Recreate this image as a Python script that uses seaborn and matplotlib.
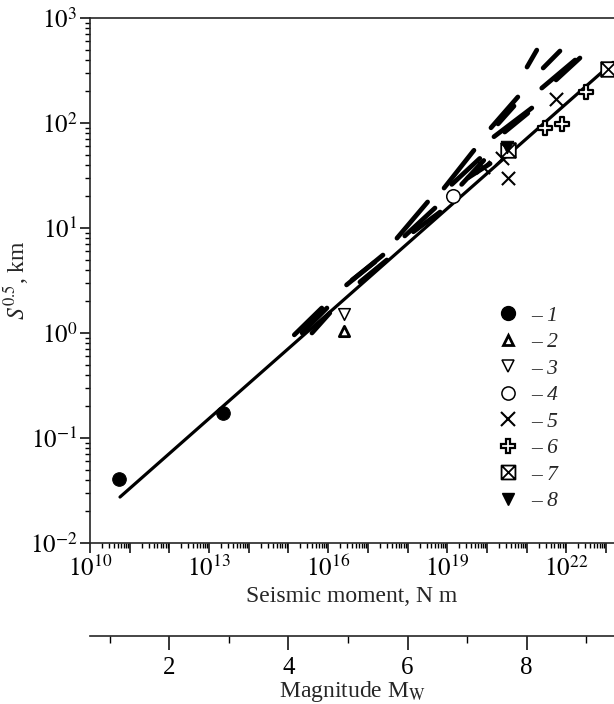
import numpy as np
import pandas as pd
import matplotlib
matplotlib.use("Agg")
import matplotlib.pyplot as plt
from matplotlib.path import Path
from matplotlib.lines import Line2D
from matplotlib.ticker import FixedLocator, FuncFormatter, NullFormatter, LogLocator
import seaborn as sns

# ---------------------------------------------------------------
# Datos (momento sismico N m, S^0.5 km)
# ---------------------------------------------------------------
m0_1 = [5.5e10, 2.2e13]
s_1 = [0.041, 0.172]
m0_2 = [2.5e16]
s_2 = [1.05]
m0_3 = [2.5e16]
s_3 = [1.52]
m0_4 = [1.4e19]
s_4 = [20.0]
m0_5 = [7.9e19, 2.4e20, 3.4e20, 5.5e21]
s_5 = [38.0, 46.0, 30.0, 169.0]
m0_6 = [2.9e21, 7.8e21, 3.1e22]
s_6 = [90.0, 98.0, 197.0]
m0_7 = [3.3e20, 1.1e23]
s_7 = [55.0, 327.0]
m0_8 = [3.2e20]
s_8 = [59.0]

# recta de ajuste
fit_m0 = [5.7e10, 1.5e23]
fit_s = [0.0274, 378.0]

# segmentos gruesos (rangos)
seg_m0_a = [1.4e15, 2.2e15, 3.9e15, 2.9e16, 6.3e16, 4.0e16, 5.4e17, 8.5e17, 1.4e18,
            8.3e18, 1.3e19, 2.3e19, 3.3e19, 1.26e20, 1.5e20, 2.8e20, 1.9e20,
            1.02e21, 2.6e21, 2.4e21, 5.5e21]
seg_m0_b = [6.9e15, 9.3e15, 1.1e16, 2.4e17, 3.0e17, 1.5e17, 3.2e18, 4.9e18, 6.6e18,
            4.7e19, 6.6e19, 8.3e19, 1.2e20, 6.0e20, 1.35e21, 1.07e21, 4.8e20,
            1.8e21, 6.9e21, 1.66e22, 2.2e22]
seg_s_a = [0.96, 1.0, 1.0, 2.87, 3.06, 3.2, 8.0, 8.4, 9.2,
           24.0, 26.0, 26.0, 30.0, 90.0, 74.0, 82.0, 98.0,
           341.0, 334.0, 215.0, 257.0]
seg_s_b = [1.73, 1.73, 1.55, 5.53, 4.96, 4.74, 17.7, 15.5, 14.2,
           55.0, 46.0, 44.0, 41.0, 177.0, 139.0, 124.0, 145.0,
           495.0, 485.0, 398.0, 416.0]

legend_labels = ["1", "2", "3", "4", "5", "6", "7", "8"]
x_label_decades = [10, 13, 16, 19, 22]
mw_ticks = [2, 4, 6, 8]
mw_minor = [1, 3, 5, 7, 9]

# ---------------------------------------------------------------
# Estilo
# ---------------------------------------------------------------
sns.set_theme(style="ticks")
plt.rcParams['font.family'] = ['Liberation Serif', 'DejaVu Serif']
plt.rcParams['mathtext.fontset'] = 'stix'
plt.rcParams['axes.linewidth'] = 1.2
plt.rcParams['xtick.major.width'] = 1.1
plt.rcParams['ytick.major.width'] = 1.1
plt.rcParams['xtick.minor.width'] = 1.0
plt.rcParams['ytick.minor.width'] = 1.0

fig = plt.figure(figsize=(6.14, 7.04), dpi=100)
ax = fig.add_axes([90 / 614, 161 / 704, 524 / 614, 525 / 704])
ax.set_xscale('log')
ax.set_yscale('log')
ax.set_xlim(1e10, 10 ** 23.2)
ax.set_ylim(1e-2, 1e3)

# marcador cuadrado con aspa
box_x = Path([(-1, -1), (1, -1), (1, 1), (-1, 1), (0, 0),
              (-1, -1), (1, 1), (-1, 1), (1, -1)],
             [Path.MOVETO, Path.LINETO, Path.LINETO, Path.LINETO, Path.CLOSEPOLY,
              Path.MOVETO, Path.LINETO, Path.MOVETO, Path.LINETO])

# segmentos
dash_df = pd.DataFrame({
    'seg': np.repeat(np.arange(len(seg_m0_a)), 2),
    'm0': np.ravel(np.column_stack([seg_m0_a, seg_m0_b])),
    's': np.ravel(np.column_stack([seg_s_a, seg_s_b])),
})
sns.lineplot(data=dash_df, x='m0', y='s', units='seg', estimator=None, sort=False,
             color='black', lw=3.4, solid_capstyle='round', legend=False, ax=ax)

# recta
sns.lineplot(x=fit_m0, y=fit_s, color='black', lw=2.3, ax=ax, legend=False)

# puntos
sns.scatterplot(x=m0_1, y=s_1, marker='o', s=95, color='black', edgecolor='black', ax=ax, zorder=4)
sns.scatterplot(x=m0_2, y=s_2, marker='^', s=55, facecolor='white', edgecolor='black',
                linewidth=2.0, ax=ax, zorder=4)
sns.scatterplot(x=m0_3, y=s_3, marker='v', s=70, facecolor='white', edgecolor='black',
                linewidth=1.1, ax=ax, zorder=4)
sns.scatterplot(x=m0_4, y=s_4, marker='o', s=95, facecolor='white', edgecolor='black',
                linewidth=1.1, ax=ax, zorder=4)
sns.scatterplot(x=m0_5, y=s_5, marker='x', s=90, color='black', linewidth=1.5, ax=ax, zorder=4)
sns.scatterplot(x=m0_6, y=s_6, marker='P', s=110, facecolor='white', edgecolor='black',
                linewidth=1.6, ax=ax, zorder=4)
sns.scatterplot(x=m0_7, y=s_7, marker=box_x, s=110, facecolor='white', edgecolor='black',
                linewidth=1.3, ax=ax, zorder=4)
sns.scatterplot(x=m0_8, y=s_8, marker='v', s=80, color='black', edgecolor='black', ax=ax, zorder=5)

# ---------------------------------------------------------------
# Ejes
# ---------------------------------------------------------------
ax.spines['right'].set_visible(False)
ax.xaxis.set_major_locator(FixedLocator(10.0 ** np.arange(10, 24)))
ax.xaxis.set_minor_locator(LogLocator(base=10, subs=np.arange(2, 10), numticks=200))
ax.xaxis.set_major_formatter(FuncFormatter(
    lambda v, p: f"$10^{{{int(round(np.log10(v)))}}}$" if int(round(np.log10(v))) in x_label_decades else ""))
ax.xaxis.set_minor_formatter(NullFormatter())
ax.yaxis.set_major_locator(FixedLocator(10.0 ** np.arange(-2, 4)))
ax.yaxis.set_minor_locator(LogLocator(base=10, subs=np.arange(2, 10), numticks=200))
ax.yaxis.set_major_formatter(FuncFormatter(lambda v, p: f"$10^{{{int(round(np.log10(v)))}}}$"))
ax.yaxis.set_minor_formatter(NullFormatter())
ax.tick_params(which='major', direction='out', length=7, labelsize=18, pad=2, colors='black')
ax.tick_params(which='minor', direction='out', length=3.5, colors='black')
ax.tick_params(top=False, right=False, which='both')

ax.set_xlabel("Seismic moment, N m", fontsize=17, labelpad=4)
ax.set_ylabel(r"$S^{0.5}$, km", fontsize=17)
ax.yaxis.set_label_coords(-0.112, 0.5)


def m0_to_mw(m0):
    m0 = np.clip(np.asarray(m0, dtype=float), 1e-300, None)
    return (np.log10(m0) - 9.0) / 1.5


def mw_to_m0(mw):
    return 10.0 ** (1.5 * np.asarray(mw, dtype=float) + 9.0)


sec = ax.secondary_xaxis(-0.177, functions=(m0_to_mw, mw_to_m0))
sec.set_xticks(mw_ticks)
sec.set_xticklabels([str(t) for t in mw_ticks])
sec.xaxis.set_minor_locator(FixedLocator(mw_minor))
sec.xaxis.set_minor_formatter(NullFormatter())
sec.tick_params(which='major', direction='out', length=10, labelsize=18, pad=5, colors='black')
sec.tick_params(which='minor', direction='out', length=5, colors='black')
sec.set_xlabel(r"Magnitude M$_\mathrm{W}$", fontsize=17, labelpad=0)

# ---------------------------------------------------------------
# Leyenda
# ---------------------------------------------------------------
handles = [
    Line2D([], [], ls='none', marker='o', ms=10, mfc='black', mec='black'),
    Line2D([], [], ls='none', marker='^', ms=7.5, mfc='white', mec='black', mew=2.0),
    Line2D([], [], ls='none', marker='v', ms=8.5, mfc='white', mec='black', mew=1.1),
    Line2D([], [], ls='none', marker='o', ms=9.5, mfc='white', mec='black', mew=1.1),
    Line2D([], [], ls='none', marker='x', ms=9.5, mec='black', mew=1.5),
    Line2D([], [], ls='none', marker='P', ms=10.5, mfc='white', mec='black', mew=1.6),
    Line2D([], [], ls='none', marker=box_x, ms=10, mfc='white', mec='black', mew=1.3),
    Line2D([], [], ls='none', marker='v', ms=9, mfc='black', mec='black'),
]
ax.legend(handles, ["\u2013 " + t for t in legend_labels], loc='upper left',
          bbox_to_anchor=(0.778, 0.452), frameon=False, handlelength=1.0,
          handletextpad=0.55, labelspacing=0.3, borderpad=0, borderaxespad=0,
          prop={'family': 'Liberation Serif', 'style': 'italic', 'size': 15.5})

plt.savefig('out.png', dpi=100)
